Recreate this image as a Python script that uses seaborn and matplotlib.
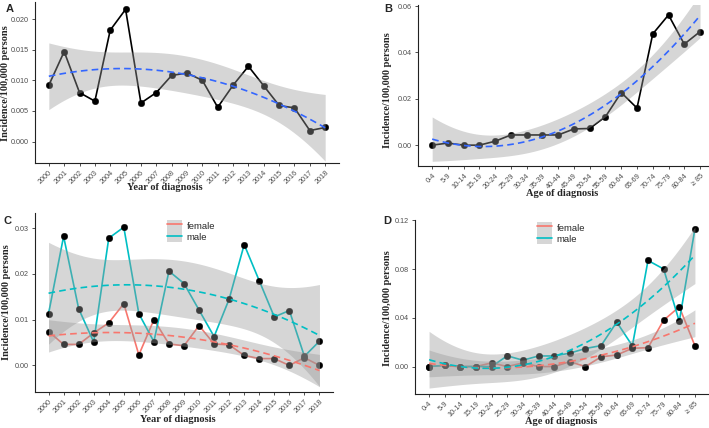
import numpy as np
import pandas as pd
import seaborn as sns
import matplotlib.pyplot as plt
from matplotlib.lines import Line2D
from matplotlib.patches import Patch
from matplotlib.ticker import FormatStrFormatter

years = [str(y) for y in range(2000, 2019)]
age_groups = ['0-4', '5-9', '10-14', '15-19', '20-24', '25-29', '30-34', '35-39', '40-44',
              '45-49', '50-54', '55-59', '60-64', '65-69', '70-74', '75-79', '80-84', '≥ 85']

year_total = [0.0092, 0.0147, 0.0080, 0.0066, 0.0182, 0.0216, 0.0063, 0.0080, 0.0108, 0.0112,
              0.0100, 0.0056, 0.0092, 0.0123, 0.0091, 0.0059, 0.0055, 0.0018, 0.0023]
age_total = [0.0000, 0.0009, 0.0000, 0.0000, 0.0017, 0.0044, 0.0044, 0.0044, 0.0044, 0.0070,
             0.0072, 0.0123, 0.0227, 0.0160, 0.0480, 0.0562, 0.0436, 0.0490]

year_female = [0.0074, 0.0046, 0.0046, 0.0071, 0.0093, 0.0135, 0.0023, 0.0100, 0.0047, 0.0043,
               0.0087, 0.0047, 0.0045, 0.0022, 0.0015, 0.0015, 0.0000, 0.0017, 0.0000]
year_male = [0.0113, 0.0282, 0.0124, 0.0051, 0.0278, 0.0302, 0.0113, 0.0052, 0.0206, 0.0179,
             0.0121, 0.0063, 0.0145, 0.0264, 0.0185, 0.0106, 0.0120, 0.0020, 0.0053]

age_female = [0.000, 0.001, 0.000, 0.000, 0.003, 0.000, 0.003, 0.000, 0.000, 0.004,
              0.000, 0.008, 0.0095, 0.015, 0.0155, 0.038, 0.049, 0.017]
age_male = [0.000, 0.001, 0.000, 0.000, 0.000, 0.0088, 0.0052, 0.0087, 0.0087, 0.011,
            0.0148, 0.0172, 0.0365, 0.017, 0.087, 0.080, 0.037, 0.113]

sex_colors = {'female': '#F8766D', 'male': '#00BFC4'}

sns.set_style('ticks')
plt.rcParams['font.family'] = ['Liberation Sans', 'DejaVu Sans']

W, H = 709, 428
fig = plt.figure(figsize=(W / 100, H / 100), dpi=100)


def px_axes(left, top, right, bottom):
    return fig.add_axes([left / W, 1 - bottom / H, (right - left) / W, (bottom - top) / H])


def t975(df):
    z = 1.959964
    return (z + (z ** 3 + z) / (4 * df) + (5 * z ** 5 + 16 * z ** 3 + 3 * z) / (96 * df ** 2)
            + (3 * z ** 7 + 19 * z ** 5 + 17 * z ** 3 - 15 * z) / (384 * df ** 3))


def smooth(ax, df, color):
    # quadratic least-squares trend with 95% confidence band
    x = df['x'].to_numpy(float)
    y = df['rate'].to_numpy(float)
    X = np.vander(x, 3)
    pinv = np.linalg.pinv(X)
    coef = pinv @ y
    sigma = np.sqrt(np.sum((y - X @ coef) ** 2) / (len(x) - 3))
    grid = np.linspace(x.min(), x.max(), 80)
    G = np.vander(grid, 3)
    fit = G @ coef
    half = t975(len(x) - 3) * sigma * np.sqrt(((G @ pinv) ** 2).sum(axis=1))
    ax.fill_between(grid, fit - half, fit + half, color='#999999', alpha=0.4, lw=0, zorder=5)
    sns.lineplot(x=grid, y=fit, ax=ax, color=color, lw=1.2, linestyle=(0, (4, 2.5)), zorder=6)


def style(ax, labels, xlabel, ylim, yticks, fmt, letter, lx, ly, xlab_pos, ylab_pos):
    ax.set_xlim(-0.9, len(labels) - 0.1)
    ax.set_ylim(*ylim)
    ax.set_xticks(range(len(labels)))
    ax.set_xticklabels(labels, rotation=45, ha='right', rotation_mode='anchor')
    ax.set_yticks(yticks)
    ax.yaxis.set_major_formatter(FormatStrFormatter(fmt))
    ax.tick_params(colors='#333333', labelcolor='#4d4d4d', labelsize=5.2, length=2.5, width=0.6, pad=2)
    for s in ['left', 'bottom']:
        ax.spines[s].set_linewidth(0.8)
        ax.spines[s].set_color('#222222')
    sns.despine(ax=ax)
    ax.set_xlabel(xlabel, family='Liberation Serif', fontweight='bold', fontsize=7.5, va='center')
    ax.set_ylabel('Incidence/100,000 persons', family='Liberation Serif', fontweight='bold',
                  fontsize=7.5, va='center')
    ax.xaxis.set_label_coords(xlab_pos[0] / W, 1 - xlab_pos[1] / H, transform=fig.transFigure)
    ax.yaxis.set_label_coords(ylab_pos[0] / W, 1 - ylab_pos[1] / H, transform=fig.transFigure)
    fig.text(lx / W, 1 - ly / H, letter, fontsize=8, fontweight='bold', va='top')


def single_panel(ax, labels, values):
    df = pd.DataFrame({'x': np.arange(len(labels)), 'rate': values})
    sns.lineplot(data=df, x='x', y='rate', ax=ax, color='black', lw=1.2)
    sns.scatterplot(data=df, x='x', y='rate', ax=ax, color='black', s=22, edgecolor='black',
                    linewidth=0.3, zorder=3)
    smooth(ax, df, '#3366FF')


def sex_panel(ax, labels, female, male, legend_xy):
    n = len(labels)
    df = pd.DataFrame({'x': list(range(n)) * 2, 'rate': female + male,
                       'sex': ['female'] * n + ['male'] * n})
    sns.lineplot(data=df, x='x', y='rate', hue='sex', palette=sex_colors, ax=ax, lw=1.2, legend=False)
    sns.scatterplot(data=df, x='x', y='rate', ax=ax, color='black', s=22, edgecolor='black',
                    linewidth=0.3, zorder=3)
    for sex in ['female', 'male']:
        smooth(ax, df[df['sex'] == sex], sex_colors[sex])
    handles = [(Patch(facecolor='#999999', alpha=0.4, edgecolor='none'),
                Line2D([], [], color=sex_colors[s], lw=1.2)) for s in ['female', 'male']]
    ax.legend(handles, ['female', 'male'], loc='upper left',
              bbox_to_anchor=(legend_xy[0] / W, 1 - legend_xy[1] / H), bbox_transform=fig.transFigure,
              frameon=False, fontsize=6.8, handlelength=1.6, handleheight=1.45, labelspacing=0.0,
              handletextpad=0.5, borderpad=0, borderaxespad=0)


ax_a = px_axes(35, 2, 339, 163)
single_panel(ax_a, years, year_total)
style(ax_a, years, 'Year of diagnosis', (-0.0035, 0.0228), [0, 0.005, 0.01, 0.015, 0.02], '%.3f',
      'A', 6, 4, (165, 188), (6, 83))

ax_b = px_axes(418, 5, 709, 166)
single_panel(ax_b, age_groups, age_total)
style(ax_b, age_groups, 'Age of diagnosis', (-0.009, 0.0605), [0, 0.02, 0.04, 0.06], '%.2f',
      'B', 384, 4, (562, 193), (388, 90))
ax_b.set_xlim(-0.9, 17.57)

ax_c = px_axes(35, 213, 333, 392)
sex_panel(ax_c, years, year_female, year_male, (167, 220))
style(ax_c, years, 'Year of diagnosis', (-0.0058, 0.0333), [0, 0.01, 0.02, 0.03], '%.2f',
      'C', 4, 216, (178, 420), (7, 302))

ax_d = px_axes(415, 220, 709, 394)
sex_panel(ax_d, age_groups, age_female, age_male, (537, 222))
style(ax_d, age_groups, 'Age of diagnosis', (-0.0225, 0.1202), [0, 0.04, 0.08, 0.12], '%.2f',
      'D', 383, 216, (561, 422), (388, 308))

fig.savefig('out.png', dpi=100)
